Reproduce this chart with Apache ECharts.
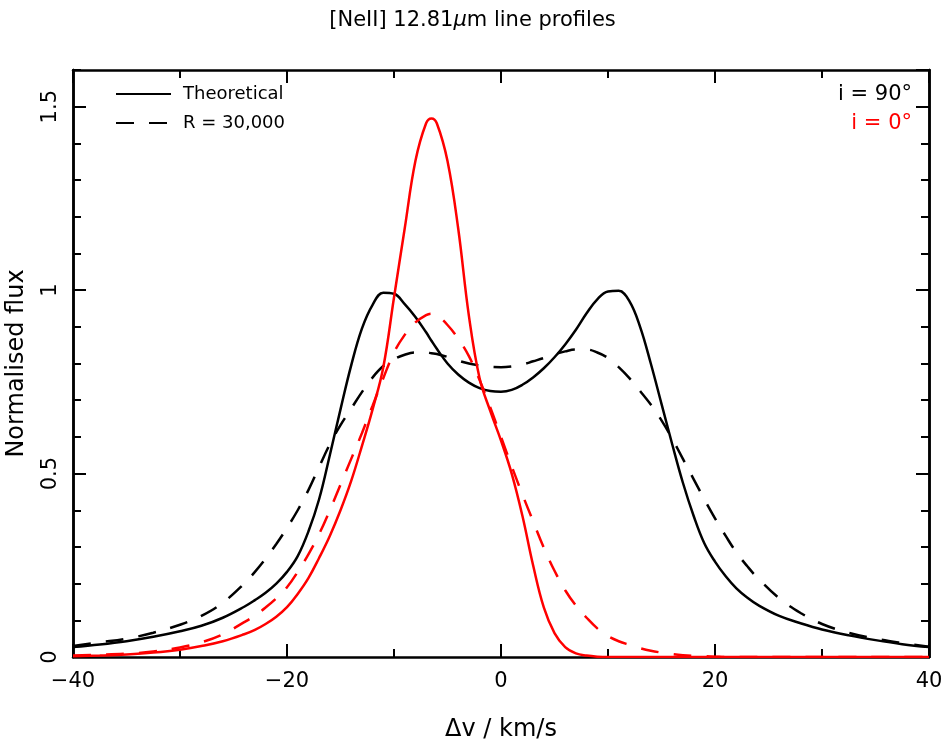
<!DOCTYPE html>
<html>
<head>
<meta charset="utf-8">
<script src="https://cdn.jsdelivr.net/npm/echarts@6/dist/echarts.min.js"></script>
<style>
html, body { margin: 0; padding: 0; background: #fff; }
#main { width: 945px; height: 743px; }
</style>
</head>
<body>
<div id="main"></div>
<script>
// velocity grid, km/s
const velocity = [-40, -37.5, -35, -32.5, -30, -28, -26,
    -24, -23, -22, -21, -20, -19, -18, -17, -16, -15, -14, -13, -12, -11, -10, -9, -8, -7, -6.5,
    -6, -5, -4, -3, -2, -1, 0, 1, 2, 3, 4, 5, 6, 7, 8, 9, 10, 11, 12, 13, 14, 15, 16, 17, 18, 19, 20, 21, 22, 23, 24,
    26, 28, 30, 32.5, 35, 37.5, 40];

// i = 90 deg
const theory90 = [0.027, 0.034, 0.043, 0.055, 0.07, 0.085, 0.107,
    0.137, 0.155, 0.175, 0.2, 0.232, 0.275, 0.342, 0.43, 0.55, 0.675, 0.795, 0.895, 0.96, 0.993, 0.99, 0.962, 0.927, 0.885, 0.862,
    0.84, 0.80, 0.77, 0.748, 0.733, 0.725, 0.723, 0.728, 0.742, 0.762, 0.787, 0.817, 0.852, 0.892, 0.937, 0.975, 0.996, 0.998, 0.97, 0.9, 0.8, 0.69, 0.58, 0.475, 0.385, 0.31, 0.26, 0.22, 0.187, 0.162, 0.142,
    0.112, 0.092, 0.075, 0.059, 0.046, 0.035, 0.027];
const r30k90 = [0.03, 0.04, 0.05, 0.066, 0.088, 0.112, 0.148,
    0.2, 0.232, 0.268, 0.308, 0.352, 0.4, 0.455, 0.518, 0.58, 0.632, 0.677, 0.722, 0.762, 0.793, 0.812, 0.824, 0.83, 0.83, 0.828,
    0.826, 0.818, 0.808, 0.8, 0.795, 0.791, 0.79, 0.792, 0.797, 0.806, 0.815, 0.825, 0.833, 0.838, 0.838, 0.83, 0.815, 0.79, 0.76, 0.725, 0.688, 0.645, 0.595, 0.54, 0.485, 0.43, 0.378, 0.33, 0.285, 0.248, 0.215,
    0.16, 0.12, 0.09, 0.066, 0.05, 0.038, 0.028];

// i = 0 deg
const theory0 = [0.002, 0.004, 0.007, 0.012, 0.02, 0.03, 0.043,
    0.062, 0.074, 0.09, 0.11, 0.136, 0.172, 0.215, 0.27, 0.33, 0.4, 0.48, 0.575, 0.675, 0.79, 0.98, 1.168, 1.352, 1.455, 1.468,
    1.455, 1.352, 1.168, 0.93, 0.76, 0.67, 0.59, 0.5, 0.385, 0.25, 0.135, 0.065, 0.027, 0.01, 0.004, 0.001, 0, 0, 0, 0, 0, 0, 0, 0, 0, 0, 0, 0, 0, 0, 0,
    0, 0, 0, 0, 0, 0, 0];
const r30k0 = [0.004, 0.006, 0.009, 0.015, 0.026, 0.04, 0.062,
    0.095, 0.113, 0.135, 0.16, 0.19, 0.232, 0.28, 0.335, 0.4, 0.47, 0.54, 0.61, 0.685, 0.76, 0.83, 0.878, 0.912, 0.932, 0.936,
    0.932, 0.905, 0.868, 0.82, 0.755, 0.68, 0.6, 0.52, 0.443, 0.37, 0.298, 0.235, 0.182, 0.14, 0.107, 0.078, 0.057, 0.043, 0.033, 0.024, 0.017, 0.012, 0.008, 0.005, 0.003, 0.002, 0.001, 0, 0, 0, 0,
    0, 0, 0, 0, 0, 0, 0];

const xRange = [-40, 40];
const yRange = [0, 1.6];

const font = 'DejaVu Sans';
const pairs = arr => velocity.map((v, i) => [v, arr[i]]);

const chartDom = document.getElementById('main');
const myChart = echarts.init(chartDom, null, { renderer: 'canvas' });

const frameLine = { show: true, onZero: false, lineStyle: { color: '#000', width: 2.5 } };

let xAxisBase = (pos, labels) => ({
    type: 'value',
    position: pos,
    min: xRange[0],
    max: xRange[1],
    interval: 20,
    axisLine: frameLine,
    axisTick: { show: true, inside: true, length: 13, lineStyle: { color: '#000', width: 2 } },
    minorTick: { show: true, splitNumber: 2, length: 8, lineStyle: { color: '#000', width: 2 } },
    splitLine: { show: false },
    minorSplitLine: { show: false },
    axisLabel: {
        show: labels,
        margin: 14,
        color: '#000',
        fontFamily: font,
        fontSize: 21,
        formatter: v => String(v).replace('-', '\u2212')
    }
});

let yAxisBase = (pos, step, len, labels) => ({
    type: 'value',
    position: pos,
    min: yRange[0],
    max: yRange[1],
    interval: step,
    axisLine: frameLine,
    axisTick: { show: true, inside: true, length: len, lineStyle: { color: '#000', width: 2 } },
    splitLine: { show: false },
    axisLabel: {
        show: labels,
        rotate: 90,
        margin: 12,
        showMaxLabel: false,
        color: '#000',
        fontFamily: font,
        fontSize: 21
    }
});

const lineSeries = (name, arr, color, dashed) => ({
    name: name,
    type: 'line',
    data: pairs(arr),
    xAxisIndex: 0,
    yAxisIndex: 0,
    showSymbol: false,
    symbol: 'none',
    smooth: 0.4,
    animation: false,
    lineStyle: { color: color, width: 2.5, type: dashed ? [18, 15] : 'solid' },
    itemStyle: { color: color }
});

let option = {
    backgroundColor: '#fff',
    animation: false,
    title: {
        text: '[NeII] 12.81{mu|\u03bc}m line profiles',
        left: 'center',
        top: 5,
        textStyle: {
            fontFamily: font,
            fontSize: 21,
            fontWeight: 'normal',
            color: '#000',
            rich: {
                mu: { fontFamily: font, fontSize: 21, fontStyle: 'italic', color: '#000' }
            }
        }
    },
    grid: { left: 73, right: 16, top: 70, bottom: 86, outerBoundsMode: 'none', containLabel: false },
    legend: {
        data: ['Theoretical', 'R = 30,000'],
        orient: 'vertical',
        left: 115,
        top: 85,
        padding: 0,
        itemWidth: 55,
        itemHeight: 18,
        itemGap: 11,
        selectedMode: false,
        itemStyle: { opacity: 0, borderWidth: 0 },
        textStyle: { fontFamily: font, fontSize: 18, color: '#000', padding: [0, 0, 0, 7] }
    },
    xAxis: [
        {
            ...xAxisBase('bottom', true),
            name: '\u0394v / km/s',
            nameLocation: 'middle',
            nameGap: 61,
            nameTextStyle: { fontFamily: font, fontSize: 24, color: '#000' }
        },
        xAxisBase('top', false)
    ],
    yAxis: [
        {
            ...yAxisBase('left', 0.5, 13, true),
            name: 'Normalised flux',
            nameLocation: 'middle',
            nameGap: 44,
            nameRotate: 90,
            nameTextStyle: { fontFamily: font, fontSize: 24, color: '#000' }
        },
        yAxisBase('left', 0.1, 8, false),
        yAxisBase('right', 0.5, 13, false),
        yAxisBase('right', 0.1, 8, false)
    ],
    graphic: [
        {
            type: 'text',
            x: 912,
            y: 95,
            style: { text: 'i = 90\u00b0', font: '21px "DejaVu Sans"', fill: '#000', align: 'right', verticalAlign: 'middle' }
        },
        {
            type: 'text',
            x: 912,
            y: 124,
            style: { text: 'i = 0\u00b0', font: '21px "DejaVu Sans"', fill: '#ff0000', align: 'right', verticalAlign: 'middle' }
        }
    ],
    series: [
        lineSeries('Theoretical', theory90, '#000', false),
        lineSeries('R = 30,000', r30k90, '#000', true),
        lineSeries('Theoretical i=0', theory0, '#ff0000', false),
        lineSeries('R = 30,000 i=0', r30k0, '#ff0000', true)
    ]
};

myChart.setOption(option);
window.addEventListener('resize', () => {
    myChart.resize();
});
</script>
</body>
</html>
